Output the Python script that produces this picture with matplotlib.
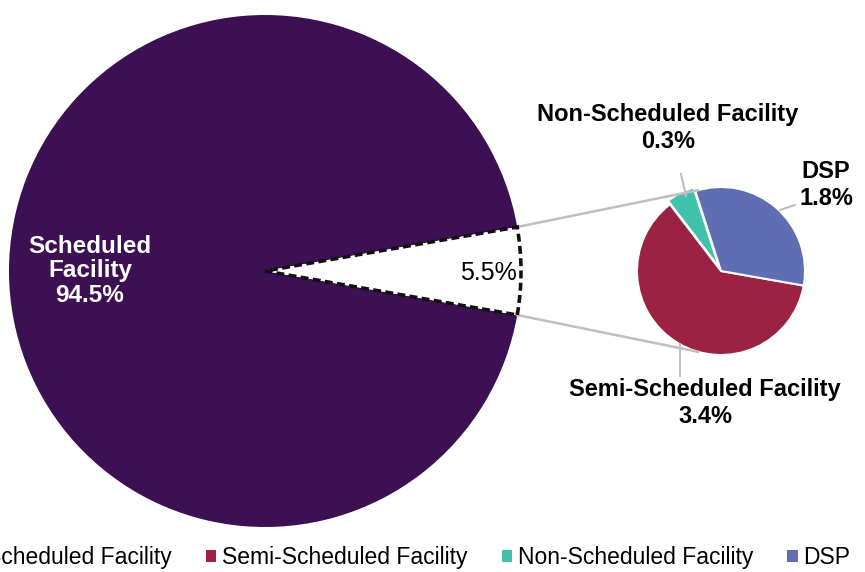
import numpy as np
import matplotlib
matplotlib.use("Agg")
import matplotlib.pyplot as plt
from matplotlib.patches import Patch

plt.rcParams['font.family'] = ['Liberation Sans', 'DejaVu Sans']

# data
main_labels = ['Scheduled Facility', 'Other']
main_values = [94.5, 5.5]
sub_labels = ['Semi-Scheduled Facility', 'Non-Scheduled Facility', 'DSP']
sub_values = [3.4, 0.3, 1.8]
legend_labels = ['Scheduled Facility', 'Semi-Scheduled Facility', 'Non-Scheduled Facility', 'DSP']
colors = ['#3c1053', '#9b2242', '#40c1ac', '#5f6eb3']

W, H = 865, 572
fig = plt.figure(figsize=(W / 100, H / 100), dpi=100)
ax = fig.add_axes([0, 0, 1, 1])

big_c, big_r = (265, 301), 256
small_c, small_r = (721, 301), 84

# big pie, the 5.5% slice pointing right
half = main_values[1] / sum(main_values) * 360 / 2
wedges, _ = ax.pie(main_values, center=big_c, radius=big_r, startangle=half,
                   colors=[colors[0], 'white'], frame=True,
                   wedgeprops=dict(linewidth=0))
wedges[1].set_edgecolor('#111111')
wedges[1].set_linestyle((0, (2.2, 1.2)))
wedges[1].set_linewidth(2.6)
wedges[1].set_zorder(3)

ax.text(big_c[0] - 175, big_c[1], 'Scheduled\nFacility\n94.5%', color='white',
        fontsize=17.5, fontweight='bold', ha='center', va='center', linespacing=1.1)
ax.text(488, big_c[1] - 2, '5.5%', color='black', fontsize=18, ha='center', va='center')

# small pie
sub_w, _ = ax.pie(sub_values, center=small_c, radius=small_r, startangle=-10,
                  counterclock=False, colors=colors[1:], explode=[0, 4, 0],
                  frame=True, wedgeprops=dict(edgecolor='white', linewidth=1.5))
ax.set_xlim(0, W)
ax.set_ylim(0, H)
ax.set_aspect('equal')
ax.axis('off')

# connector lines
grey = '#bfbfbf'
for s in (1, -1):
    a = np.radians(half) * s
    p0 = (big_c[0] + big_r * np.cos(a), big_c[1] + big_r * np.sin(a))
    b = np.radians(106) * s
    p1 = (small_c[0] + small_r * np.cos(b), small_c[1] + small_r * np.sin(b))
    ax.plot([p0[0], p1[0]], [p0[1], p1[1]], color=grey, lw=1.8, zorder=1)

# labels with leader lines
ax.plot([686, 681], [376, 398], color=grey, lw=1.5)
ax.text(668, 444, 'Non-Scheduled Facility\n0.3%', fontsize=17, fontweight='bold',
        ha='center', va='center', linespacing=1.2)
ax.plot([780, 795], [362, 367], color=grey, lw=1.5)
ax.text(826, 387, 'DSP\n1.8%', fontsize=17, fontweight='bold',
        ha='center', va='center', linespacing=1.2)
ax.plot([680, 680], [228, 196], color=grey, lw=1.5)
ax.text(705, 169, 'Semi-Scheduled Facility\n3.4%', fontsize=17, fontweight='bold',
        ha='center', va='center', linespacing=1.2)

handles = [Patch(facecolor=c, edgecolor='none') for c in colors]
fig.legend(handles, legend_labels, loc='center', bbox_to_anchor=(0.474, 0.025),
           ncol=4, frameon=False, fontsize=16.5, handlelength=0.45, handleheight=0.45,
           handletextpad=0.25, columnspacing=1.5, borderpad=0, borderaxespad=0)

fig.savefig('out.png', dpi=100)
